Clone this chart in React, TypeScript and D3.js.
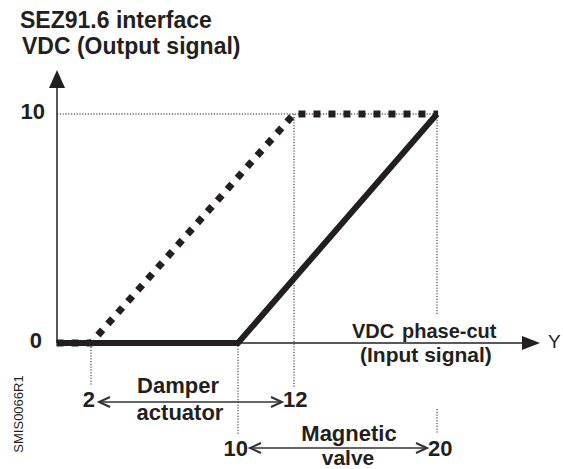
import * as d3 from "d3";

// output signal levels (VDC)
const outputTicks = [0, 10];

// damper actuator: VDC input -> output
const damperIn = [0.3, 2, 12, 19.1];
const damperOut = [0, 0, 10, 10];
const damperTicks = [2, 12];

// magnetic valve: phase-cut input -> output
const valveIn = [0.9, 10, 20];
const valveOut = [0, 0, 10];
const valveTicks = [10, 20];

const W = 563;
const H = 469;
const axisX = 57;
const font = "'Liberation Sans', Arial, sans-serif";

export default function App() {
  const y = d3.scaleLinear().domain([0, 10]).range([343, 114]);
  const xd = d3.scaleLinear().domain([2, 12]).range([91, 294]);
  const xv = d3.scaleLinear().domain([10, 20]).range([238, 437]);

  const damperPts: [number, number][] = damperIn.map((v, i) => [xd(v), y(damperOut[i])]);
  const valvePts: [number, number][] = valveIn.map((v, i) => [xv(v), y(valveOut[i])]);
  const line = d3.line<[number, number]>();

  const y0 = y(0);
  const y10 = y(10);

  const dblArrow = (x1: number, x2: number, yy: number) => (
    <g stroke="#333" strokeWidth={1.3} fill="none">
      <line x1={x1} y1={yy} x2={x2} y2={yy} />
      <polyline points={`${x1 + 11},${yy - 5} ${x1},${yy} ${x1 + 11},${yy + 5}`} strokeWidth={2} />
      <polyline points={`${x2 - 11},${yy - 5} ${x2},${yy} ${x2 - 11},${yy + 5}`} strokeWidth={2} />
    </g>
  );

  const bold = { fontFamily: font, fontWeight: 700, fontSize: 22, fill: "#231f20" } as const;

  return (
    <svg
      width={W}
      height={H}
      style={{ position: "absolute", left: 0, top: 0, background: "#fff" }}
    >
      <text x={20} y={28} {...bold} fontSize={23}>SEZ91.6 interface</text>
      <text x={22} y={54} {...bold} fontSize={23}>VDC (Output signal)</text>

      {/* dotted guides */}
      <g stroke="#231f20" strokeWidth={1} strokeDasharray="1.2 1.6" fill="none">
        <line x1={axisX} y1={y10} x2={xv(20)} y2={y10} />
        <line x1={xd(2)} y1={y0 + 4} x2={xd(2)} y2={385} />
        <line x1={xv(10)} y1={y0} x2={xv(10)} y2={435} />
        <line x1={xd(12)} y1={y10} x2={xd(12)} y2={387} />
        <line x1={xv(20)} y1={y10} x2={xv(20)} y2={315} />
        <line x1={xv(20)} y1={409} x2={xv(20)} y2={434} />
      </g>

      {/* axes */}
      <g stroke="#231f20" strokeWidth={1.5}>
        <line x1={axisX} y1={y0} x2={axisX} y2={84} />
        <line x1={axisX} y1={y0} x2={526} y2={y0} />
      </g>
      <polygon points={`${axisX},70 ${axisX - 8},88 ${axisX + 8},88`} fill="#231f20" />
      <polygon points={`540,${y0} 522,${y0 - 7} 522,${y0 + 7}`} fill="#231f20" />

      {outputTicks.map((t) => (
        <text key={t} x={t === 0 ? 42 : 45} y={y(t) + 5} textAnchor="end" {...bold}>
          {t}
        </text>
      ))}

      {/* damper actuator (dotted) */}
      <path
        d={line(damperPts) ?? ""}
        fill="none"
        stroke="#231f20"
        strokeWidth={7}
        strokeDasharray="7 8"
      />
      {/* magnetic valve (solid) */}
      <path
        d={line(valvePts) ?? ""}
        fill="none"
        stroke="#231f20"
        strokeWidth={6}
        strokeLinejoin="miter"
      />

      <text x={352} y={338} {...bold} fontSize={20}>VDC</text>
      <text x={402} y={338} {...bold} fontSize={20}>phase-cut</text>
      <text x={360} y={362} {...bold} fontSize={21}>(Input signal)</text>
      <text x={548} y={348} fontFamily={font} fontSize={19} fill="#231f20">Y</text>

      {/* damper range */}
      <text x={xd(damperTicks[0]) + 4} y={407} textAnchor="end" {...bold}>{damperTicks[0]}</text>
      {dblArrow(99, 282, 402)}
      <text x={283} y={407} {...bold}>{damperTicks[1]}</text>
      <text x={178} y={393} textAnchor="middle" {...bold}>Damper</text>
      <text x={180} y={420} textAnchor="middle" {...bold}>actuator</text>

      {/* valve range */}
      <text x={248} y={456} textAnchor="end" {...bold}>{valveTicks[0]}</text>
      {dblArrow(250, 427, 448)}
      <text x={428} y={456} {...bold}>{valveTicks[1]}</text>
      <text x={349} y={441} textAnchor="middle" {...bold}>Magnetic</text>
      <text x={348} y={465} textAnchor="middle" {...bold} fontSize={21}>valve</text>

      <text
        transform="translate(23,414) rotate(-90)"
        textAnchor="middle"
        fontFamily={font}
        fontSize={13}
        fill="#231f20"
      >
        SMIS0066R1
      </text>
    </svg>
  );
}
